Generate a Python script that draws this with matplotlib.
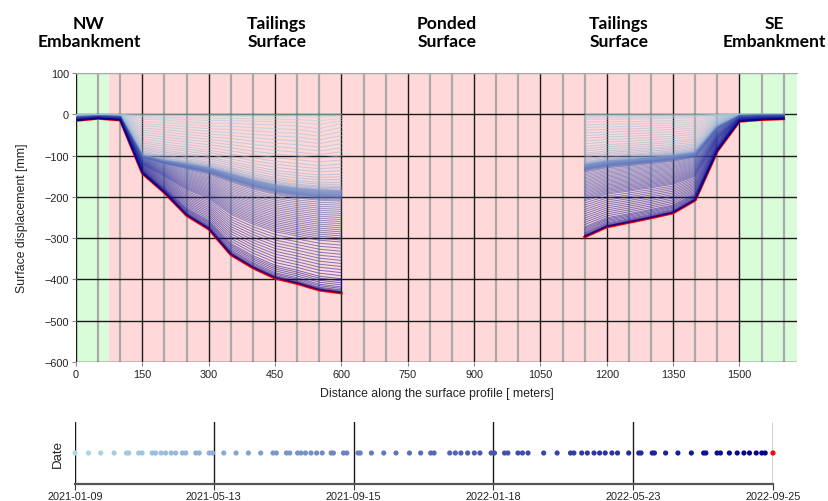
import numpy as np
import matplotlib
matplotlib.use('Agg')
import matplotlib.pyplot as plt
from matplotlib.colors import LinearSegmentedColormap
import matplotlib.dates as mdates
from matplotlib.ticker import MultipleLocator

# ---------------- data ----------------
dist_west = [0, 50, 100, 150, 200, 250, 300, 350, 400, 450, 500, 550, 600]
early_west = [-1, -1, -1, -12, -14, -18, -22, -22, -24, -26, -28, -35, -22]
band_west = [-6, -4, -5, -100, -112, -120, -130, -145, -160, -172, -180, -184, -186]
final_west = [-15, -10, -14, -143, -190, -245, -278, -340, -372, -397, -410, -426, -433]

dist_east = [1150, 1200, 1250, 1300, 1350, 1400, 1450, 1500, 1550, 1600]
early_east = [-12, -12, -12, -11, -10, -8, -3, 0, 0, 0]
band_east = [-122, -114, -110, -105, -100, -93, -30, -3, -2, -2]
final_east = [-297, -273, -262, -251, -239, -208, -89, -17, -13, -11]

# acquisition dates (days after the first acquisition)
first_date = '2021-01-09'
acq_days = [0, 12, 23, 35, 46, 48, 57, 60, 69, 72, 77, 81, 86, 90, 96, 99, 108, 111,
            120, 123, 133, 144, 155, 166, 177, 180, 189, 192, 199, 202, 206, 211, 216,
            221, 229, 231, 240, 243, 253, 255, 265, 276, 287, 299, 309, 318, 321, 335,
            340, 345, 351, 357, 362, 372, 375, 384, 387, 396, 400, 405, 419, 431, 443,
            446, 453, 458, 464, 469, 474, 480, 485, 495, 504, 506, 516, 518, 528, 539,
            551, 562, 564, 574, 577, 585, 592, 598, 603, 609, 614, 617, 624]

# settlement stage of each acquisition (0-1 early, 1-2 up to the dense band, 2-3 up to final)
stage = [0.0, 0.2, 0.45, 0.7, 1.0,
         1.06, 1.12, 1.18, 1.24, 1.30, 1.36, 1.42, 1.48, 1.54, 1.60, 1.65, 1.70, 1.75,
         1.79, 1.83, 1.87, 1.90, 1.93, 1.95, 1.97, 1.985, 1.995,
         2.000, 2.004, 2.008, 2.012, 2.016, 2.020, 2.024, 2.028, 2.032, 2.036, 2.040,
         2.044, 2.048, 2.052, 2.056, 2.060, 2.066, 2.072, 2.080, 2.090,
         2.10, 2.12, 2.14, 2.16, 2.18, 2.20, 2.22, 2.24, 2.26, 2.28, 2.30, 2.32, 2.34,
         2.36, 2.38, 2.40, 2.42, 2.44, 2.46, 2.48, 2.50, 2.53, 2.56, 2.59, 2.62, 2.65,
         2.68, 2.71, 2.74, 2.77, 2.80, 2.83, 2.86, 2.88, 2.90, 2.92, 2.94, 2.955, 2.97,
         2.98, 2.988, 2.994, 2.998, 3.00]

date_ticks = ['2021-01-09', '2021-05-13', '2021-09-15', '2022-01-18', '2022-05-23', '2022-09-25']

zone_labels = ['NW\nEmbankment', 'Tailings\nSurface', 'Ponded\nSurface', 'Tailings\nSurface', 'SE\nEmbankment']
zone_x_px = [89, 277, 447, 619, 774]

# ---------------- helpers ----------------
def profile(s, e, b, f):
    e, b, f = np.asarray(e, float), np.asarray(b, float), np.asarray(f, float)
    if s <= 1:
        return s * e
    if s <= 2:
        return e + (s - 1) * (b - e)
    return b + (s - 2) * (f - b)

plt.rcParams['font.family'] = ['Liberation Sans', 'DejaVu Sans']

W, H = 829, 502
fig = plt.figure(figsize=(W / 100, H / 100), dpi=100)

cmap = LinearSegmentedColormap.from_list('bl', ['#add8e6', '#00008b'])
dates = np.datetime64(first_date) + np.array(acq_days).astype('timedelta64[D]')
tfrac = np.array(acq_days) / acq_days[-1]

# ---------------- main profile axes ----------------
ax = fig.add_axes([76 / W, 1 - 363 / H, (797 - 76) / W, (363 - 74) / H])
ax.set_xlim(0, 1630)
ax.set_ylim(-600, 100)
ax.axvspan(0, 75, color='#d9fdd9', zorder=0, lw=0)
ax.axvspan(75, 1500, color='#ffd9d9', zorder=0, lw=0)
ax.axvspan(1500, 1630, color='#d9fdd9', zorder=0, lw=0)

ax.xaxis.set_major_locator(MultipleLocator(150))
ax.xaxis.set_minor_locator(MultipleLocator(50))
ax.yaxis.set_major_locator(MultipleLocator(100))
ax.set_axisbelow(True)
ax.grid(which='minor', axis='x', color='#a9a9a9', lw=1.6, zorder=1)
ax.grid(which='major', axis='x', color='#1a1a1a', lw=1.0, zorder=1)
ax.grid(which='major', axis='y', color='#1a1a1a', lw=1.0, zorder=1)
for gl, v in zip(ax.get_ygridlines(), ax.get_yticks()):
    if v >= 100:
        gl.set_color('#aaaaaa')
for sp in ['left', 'right', 'bottom']:
    ax.spines[sp].set_visible(False)
ax.spines['top'].set_color('#aaaaaa')
ax.tick_params(which='major', length=3, color='#888888', labelsize=7.8, labelcolor='#222222', pad=2)
ax.tick_params(which='minor', length=0)
ax.set_xticks(np.arange(0, 1501, 150))

n = len(acq_days)
for i in range(n - 1):
    c = cmap(tfrac[i])
    ax.plot(dist_west, profile(stage[i], early_west, band_west, final_west),
            color=c, lw=0.75, alpha=0.55, zorder=4)
    ax.plot(dist_east, profile(stage[i], early_east, band_east, final_east),
            color=c, lw=0.75, alpha=0.55, zorder=4)
ax.plot(dist_west, profile(stage[-1], early_west, band_west, final_west), color='#ff0000', lw=2.0, zorder=3)
ax.plot(dist_east, profile(stage[-1], early_east, band_east, final_east), color='#ff0000', lw=2.0, zorder=3)

ax.set_xlabel('Distance along the surface profile [ meters]', fontsize=8.8, color='#222222', labelpad=6)
ax.set_ylabel('Surface displacement [mm]', fontsize=8.8, color='#222222', labelpad=12)

for lab, xp in zip(zone_labels, zone_x_px):
    fig.text(xp / W, 1 - 33 / H, lab, ha='center', va='center', fontsize=12.6,
             fontweight='bold', family=['Lato', 'DejaVu Sans'], linespacing=1.12)

# ---------------- date timeline axes ----------------
tax = fig.add_axes([75 / W, 1 - 485 / H, (773 - 75) / W, (485 - 423) / H])
tax.set_xlim(dates[0], dates[-1])
tax.set_ylim(-1, 1)
cols = [cmap(t) for t in tfrac[:-1]] + ['#ff0000']
tax.scatter(dates, np.zeros(n), s=14, c=cols, lw=0, zorder=3, clip_on=False)
tax.set_xticks([np.datetime64(d) for d in date_ticks])
tax.xaxis.set_major_formatter(mdates.DateFormatter('%Y-%m-%d'))
tax.set_yticks([])
tax.grid(axis='x', color='#1a1a1a', lw=1.0)
for sp in ['left', 'right', 'top']:
    tax.spines[sp].set_visible(False)
tax.spines['bottom'].set_color('#555555')
tax.spines['bottom'].set_linewidth(1.6)
tax.tick_params(axis='x', length=4, color='#333333', labelsize=7.8, labelcolor='#222222', pad=1)
tax.set_ylabel('Date', fontsize=9.5, color='#222222', labelpad=8)

fig.savefig('out.png', dpi=100)
